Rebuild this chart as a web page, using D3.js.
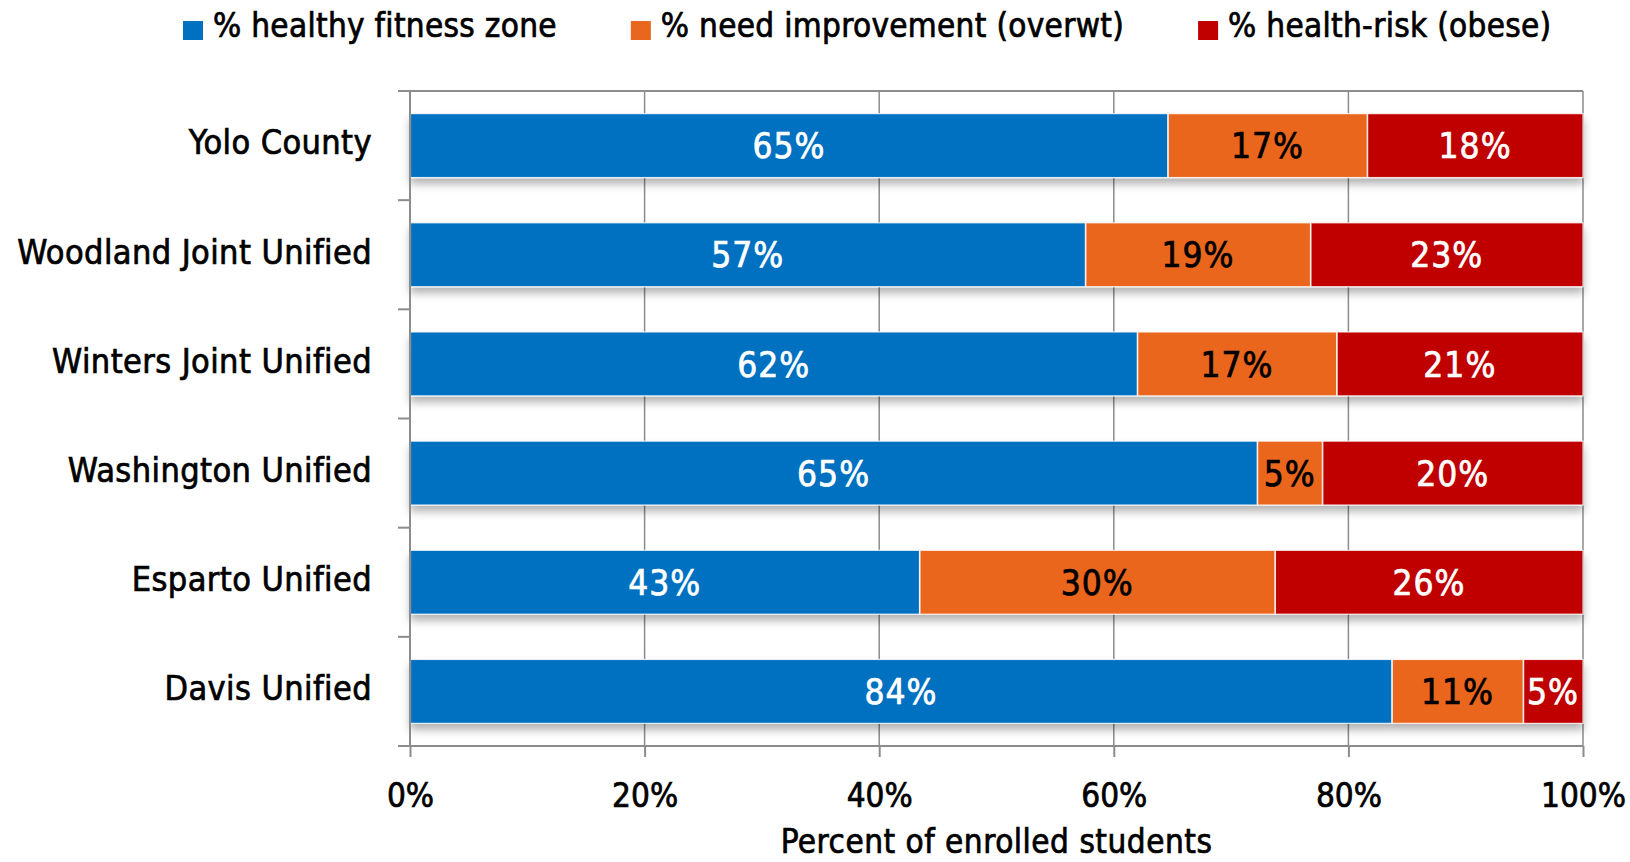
<!DOCTYPE html>
<html>
<head>
<meta charset="utf-8">
<script src="https://cdn.jsdelivr.net/npm/d3@7"></script>
<style>
  body { margin: 0; background: #fff; }
  svg text { font-family: "DejaVu Sans Condensed", "DejaVu Sans", sans-serif; }
</style>
</head>
<body>
<svg id="chart" width="1630" height="862"></svg>
<script>
// districts, top to bottom
const categories = ["Yolo County", "Woodland Joint Unified", "Winters Joint Unified",
                    "Washington Unified", "Esparto Unified", "Davis Unified"];
const seriesNames = ["% healthy fitness zone", "% need improvement (overwt)", "% health-risk (obese)"];
const healthy = [64.6, 57, 62, 65, 43, 83.7];
const needImprovement = [17.0, 19, 17, 5, 30, 11.2];
const healthRisk = [18.4, 23, 21, 20, 26, 5.1];
const xTicks = [0, 0.2, 0.4, 0.6, 0.8, 1];

const colors = ["#0070c0", "#e9661f", "#c00000"];
const labelColors = ["#fff", "#000", "#fff"];

const svg = d3.select("#chart");
const plotLeft = 410, plotRight = 1583, plotTop = 91, plotBottom = 746;

// heavier-looking text: thin stroke in the fill colour
function heavy(sel, col) {
    return sel.attr("fill", col).attr("stroke", col).attr("stroke-width", 0.7);
}

// rows for d3.stack (bars are stretched to 100%)
const rows = categories.map((c, i) => ({
    name: c,
    s0: healthy[i],
    s1: needImprovement[i],
    s2: healthRisk[i]
}));
const stack = d3.stack().keys(["s0", "s1", "s2"]).offset(d3.stackOffsetExpand);
const series = stack(rows);

const x = d3.scaleLinear().domain([0, 1]).range([plotLeft, plotRight]);
const y = d3.scaleBand().domain(categories).range([plotTop, plotBottom])
    .paddingInner(0.415).paddingOuter(0.2075);

// shadow under the bars
const defs = svg.append("defs");
defs.append("filter")
    .attr("id", "shadow")
    .attr("x", "-5%").attr("y", "-20%").attr("width", "110%").attr("height", "160%")
    .append("feDropShadow")
    .attr("dx", 0).attr("dy", 6)
    .attr("stdDeviation", 4)
    .attr("flood-color", "#000")
    .attr("flood-opacity", 0.3);

const grey = "#8c8c8c";

// gridlines
svg.append("g")
    .selectAll("line")
    .data(xTicks)
    .enter()
    .append("line")
    .attr("x1", d => x(d)).attr("x2", d => x(d))
    .attr("y1", plotTop).attr("y2", plotBottom)
    .attr("stroke", grey)
    .attr("stroke-width", 1.5);

// top border
svg.append("line")
    .attr("x1", plotLeft - 12).attr("x2", plotRight)
    .attr("y1", plotTop).attr("y2", plotTop)
    .attr("stroke", grey).attr("stroke-width", 2);

// bars
const barGroup = svg.append("g").attr("filter", "url(#shadow)");
series.forEach((s, si) => {
    barGroup.append("g")
        .selectAll("rect")
        .data(s)
        .enter()
        .append("rect")
        .attr("x", d => x(d[0]) + 0.5)
        .attr("y", d => y(d.data.name))
        .attr("width", d => x(d[1]) - x(d[0]) - 0.5)
        .attr("height", y.bandwidth())
        .attr("fill", colors[si])
        .attr("stroke", "#fff")
        .attr("stroke-opacity", 0.8)
        .attr("stroke-width", 1.2);
});

// value labels
const raw = [healthy, needImprovement, healthRisk];
const fmt = d3.format(".0f");
series.forEach((s, si) => {
    svg.append("g")
        .selectAll("text")
        .data(s)
        .enter()
        .append("text")
        .attr("x", d => (x(d[0]) + x(d[1])) / 2)
        .attr("y", d => y(d.data.name) + y.bandwidth() / 2)
        .attr("dy", "0.36em")
        .attr("text-anchor", "middle")
        .attr("font-size", "35px")
        .attr("letter-spacing", "1px")
        .call(heavy, labelColors[si])
        .text((d, i) => fmt(raw[si][i]) + "%");
});

// left axis
const yAxis = svg.append("g");
yAxis.append("line")
    .attr("x1", plotLeft).attr("x2", plotLeft)
    .attr("y1", plotTop).attr("y2", plotBottom)
    .attr("stroke", grey).attr("stroke-width", 2);
const step = y.step();
yAxis.selectAll(".ytick")
    .data(d3.range(categories.length + 1))
    .enter()
    .append("line")
    .attr("x1", plotLeft - 12).attr("x2", plotLeft)
    .attr("y1", d => plotTop + d * step).attr("y2", d => plotTop + d * step)
    .attr("stroke", grey).attr("stroke-width", 2);
yAxis.selectAll(".ylabel")
    .data(categories)
    .enter()
    .append("text")
    .attr("x", 372)
    .attr("y", d => y(d) + y.bandwidth() / 2)
    .attr("dy", "0.26em")
    .attr("text-anchor", "end")
    .attr("font-size", "34px")
    .attr("letter-spacing", "0.4px")
    .call(heavy, "#000")
    .text(d => d);

// bottom axis
const xAxis = svg.append("g")
    .attr("transform", `translate(0,${plotBottom})`)
    .call(d3.axisBottom(x).tickValues(xTicks).tickFormat(d3.format(".0%")).tickSize(11).tickSizeOuter(0));
xAxis.select(".domain").remove();
xAxis.append("line")
    .attr("x1", plotLeft - 12).attr("x2", plotRight)
    .attr("stroke", grey).attr("stroke-width", 2);
xAxis.selectAll(".tick line").attr("stroke", grey).attr("stroke-width", 2);
xAxis.selectAll(".tick text")
    .attr("y", 49)
    .attr("dy", "0.36em")
    .attr("font-family", "'DejaVu Sans Condensed', 'DejaVu Sans', sans-serif")
    .attr("font-size", "33px")
    .call(heavy, "#000");

svg.append("text")
    .attr("x", (plotLeft + plotRight) / 2)
    .attr("y", 853)
    .attr("text-anchor", "middle")
    .attr("font-size", "33px")
    .attr("letter-spacing", "0.5px")
    .call(heavy, "#000")
    .text("Percent of enrolled students");

// legend
const legend = svg.append("g");
let lx = 183;
seriesNames.forEach((name, i) => {
    const g = legend.append("g").attr("transform", `translate(${lx},0)`);
    g.append("rect")
        .attr("x", 0).attr("y", 21)
        .attr("width", 20).attr("height", 19)
        .attr("fill", colors[i]);
    const t = g.append("text")
        .attr("x", 30).attr("y", 37)
        .attr("font-size", "33px")
        .attr("letter-spacing", "0.3px")
        .call(heavy, "#000")
        .text(name);
    lx += 30 + t.node().getComputedTextLength() + 74;
});
</script>
</body>
</html>
